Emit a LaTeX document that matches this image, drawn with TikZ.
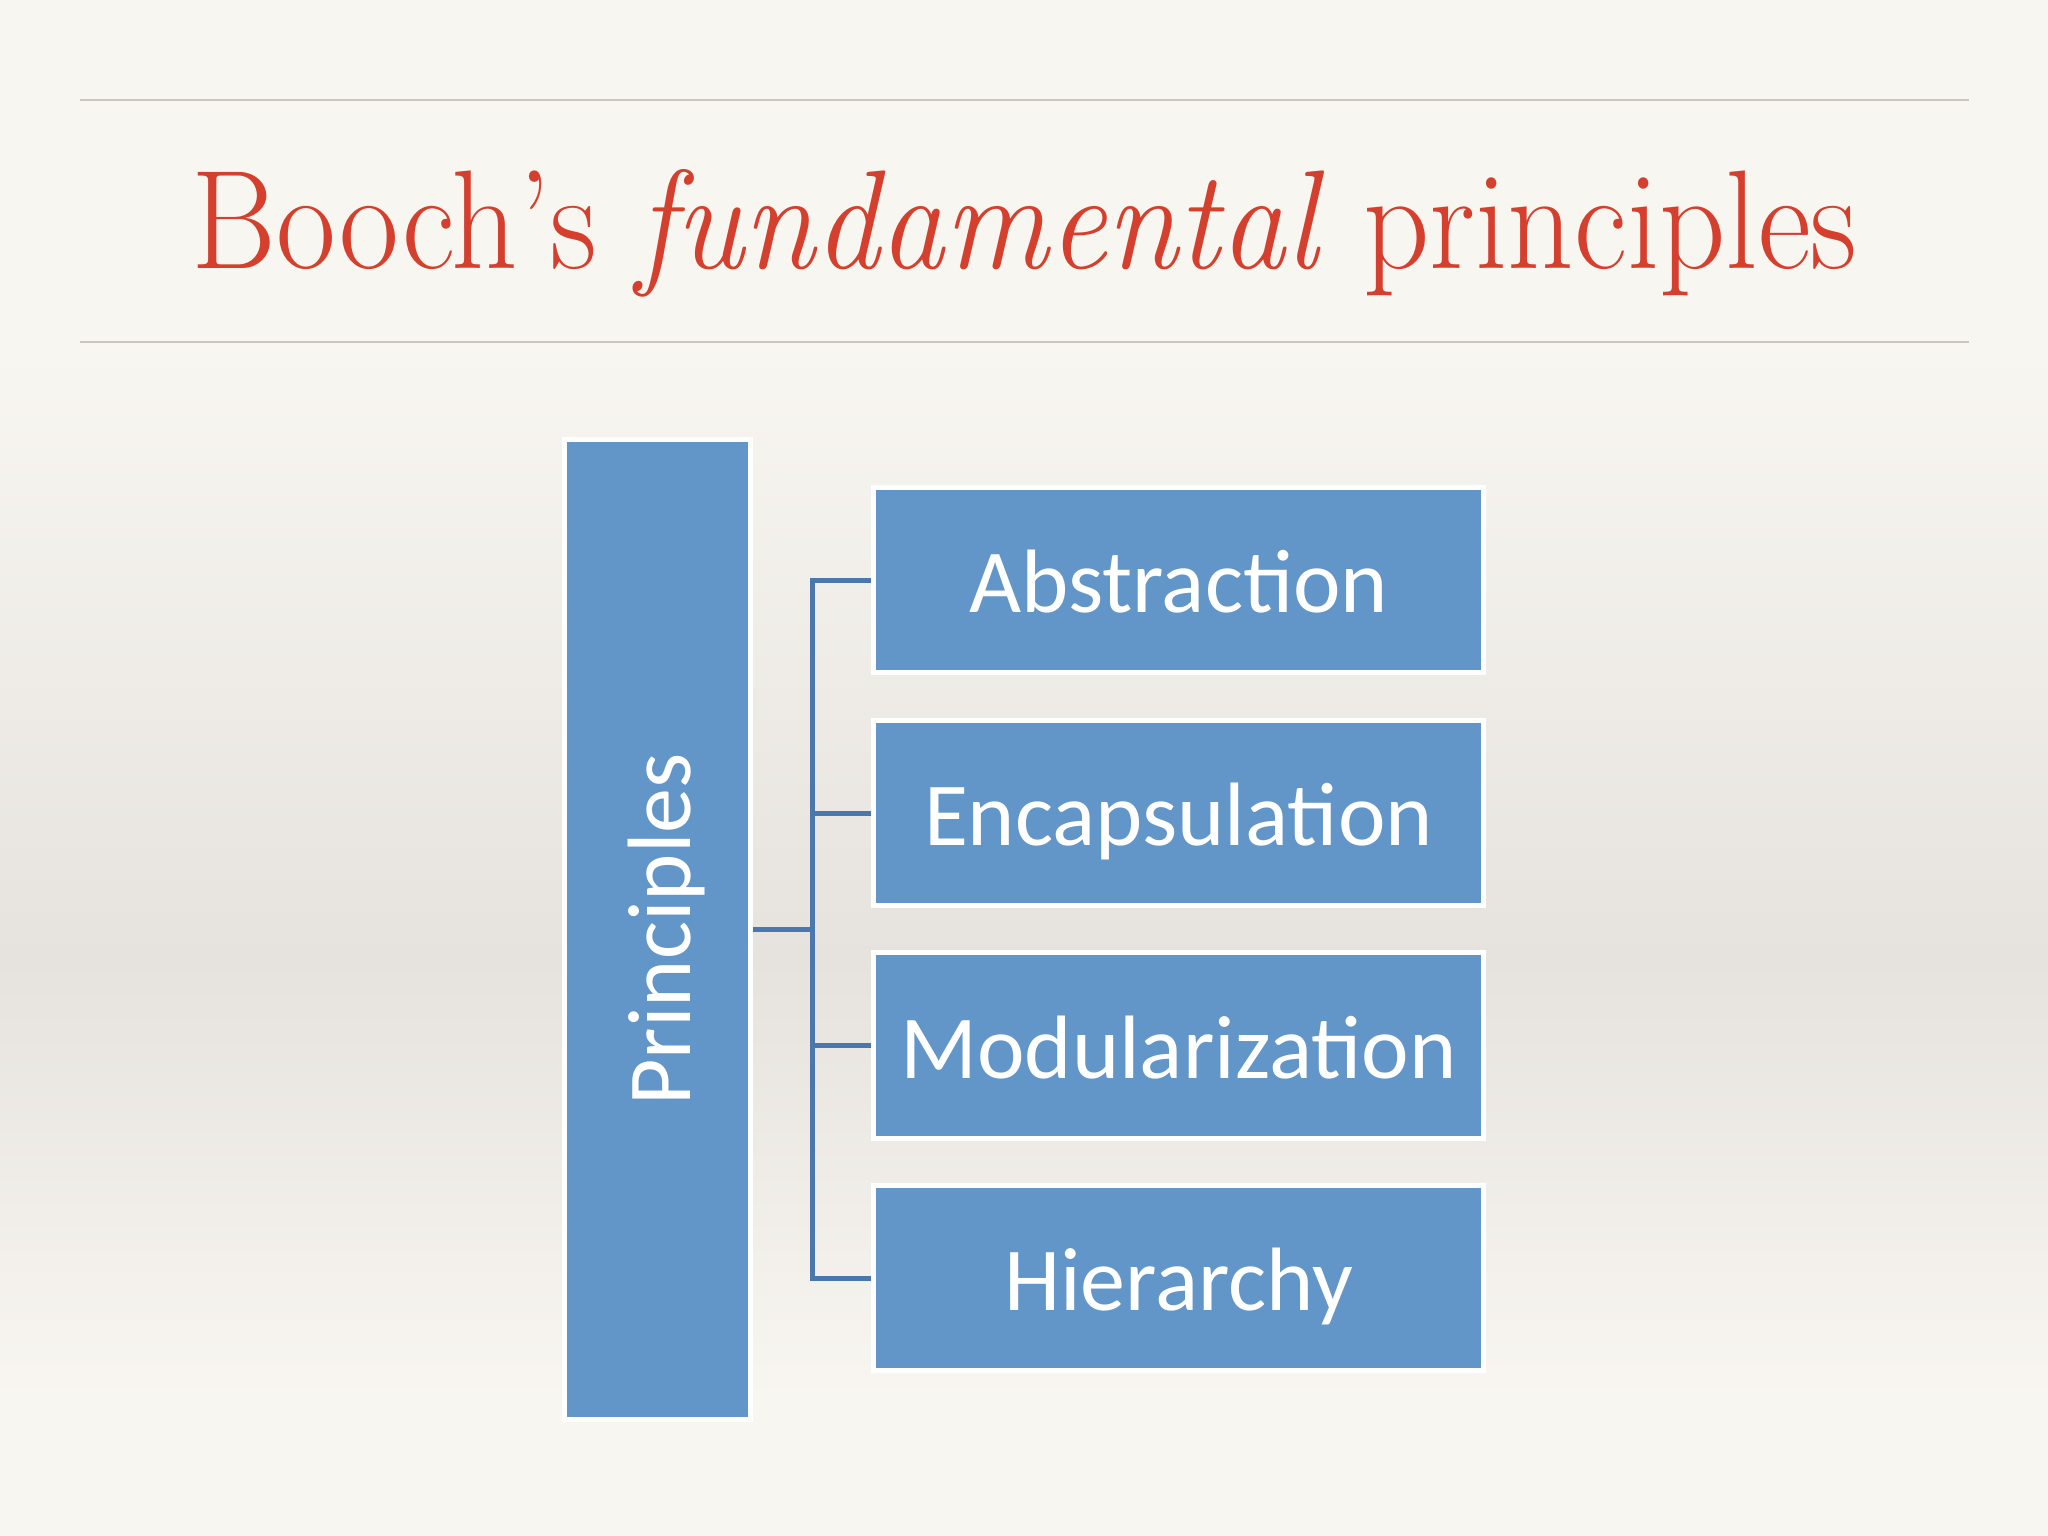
\documentclass[tikz,border=0pt]{standalone}
\usepackage{fontspec}
\usepackage{graphicx}
\newfontfamily\carlito{Carlito}
\usetikzlibrary{backgrounds}
\definecolor{titlered}{HTML}{D5402E}
\definecolor{boxblue}{HTML}{6296C9}
\definecolor{connblue}{HTML}{4A77AD}
\definecolor{rulegray}{HTML}{C9C6C0}
\definecolor{bgA}{HTML}{F8F6F0}
\definecolor{bgB}{HTML}{E6E3DE}
\newcommand{\fixbox}[1]{\raisebox{0pt}[0.65cm][0pt]{#1}}
\tikzset{
  pbox/.style={draw=white, line width=0.05cm, fill=boxblue, inner sep=0pt, outer sep=0pt,
    text=white, font=\carlito\fontsize{25.6pt}{30pt}\selectfont},
  childbox/.style={pbox, minimum width=6.10cm, minimum height=1.85cm},
  conn/.style={draw=connblue, line width=0.05cm},
  rulel/.style={draw=rulegray, line width=0.02cm}
}
\begin{document}
\begin{tikzpicture}[x=0.01cm,y=-0.01cm]
\useasboundingbox (0,0) rectangle (2048,1536);
\begin{pgfonlayer}{background}
  \fill[bgA] (0,0) rectangle (2048,350);
  \fill[top color=bgA, bottom color=bgB] (0,350) rectangle (2048,961);
  \fill[top color=bgB, bottom color=bgA] (0,960) rectangle (2048,1400);
  \fill[bgA] (0,1399) rectangle (2048,1536);
\end{pgfonlayer}
\draw[rulel] (80,100) -- (1969,100);
\draw[rulel] (80,342) -- (1969,342);
\node[anchor=base, inner sep=0pt, text=titlered] (title) at (1024.5,268)
  {\resizebox{16.65cm}{0.99cm}{\fontsize{40pt}{40pt}\selectfont Booch’s \textit{fundamental} principles}};
\node[pbox, minimum width=1.86cm, minimum height=9.80cm] (p) at (657.5,929.5) {\rotatebox{90}{\fixbox{Principles}}};
\node[childbox] (a) at (1178.5,580) {\fixbox{Abstraction}};
\node[childbox] (e) at (1178.5,813) {\fixbox{Encapsulation}};
\node[childbox] (m) at (1178.5,1045.5) {\fixbox{Modularization}};
\node[childbox] (h) at (1178.5,1278) {\fixbox{Hierarchy}};
\coordinate (tt) at (812,580);
\begin{pgfonlayer}{background}
  \draw[conn] (p.east) -- (p.east -| tt);
  \draw[conn] (a.west) -- (a.west -| tt) |- (h.west);
  \draw[conn] (e.west) -- (e.west -| tt);
  \draw[conn] (m.west) -- (m.west -| tt);
\end{pgfonlayer}
\end{tikzpicture}
\end{document}
